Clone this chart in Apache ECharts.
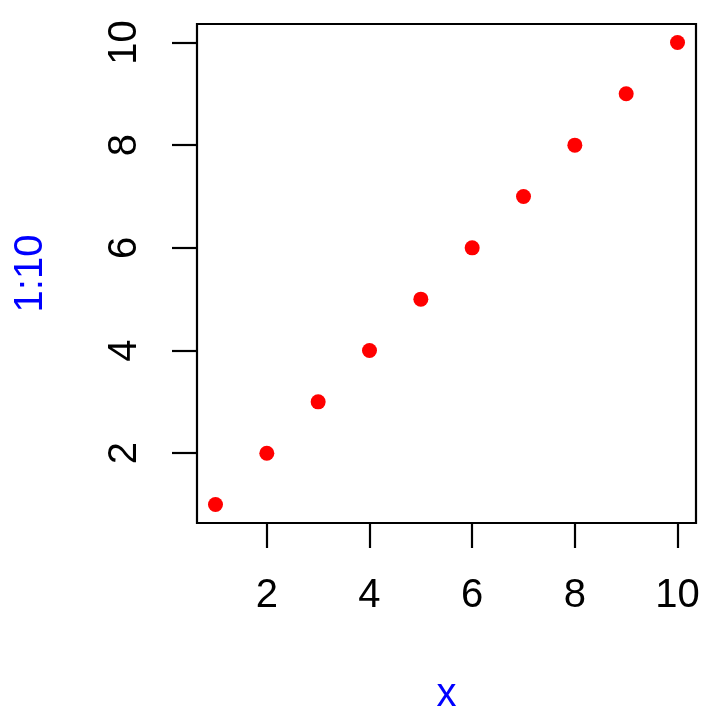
<!DOCTYPE html>
<html><head><meta charset="utf-8">
<script src="https://cdn.jsdelivr.net/npm/echarts@6/dist/echarts.min.js"></script>
<style>html,body{margin:0;padding:0;background:#fff}#c{width:720px;height:720px}</style>
</head><body><div id="c"></div>
<script>
var xValues = [1, 2, 3, 4, 5, 6, 7, 8, 9, 10];
var yValues = [1, 2, 3, 4, 5, 6, 7, 8, 9, 10];
var xTicks = [2, 4, 6, 8, 10];
var yTicks = [2, 4, 6, 8, 10];
var xTitle = 'x';
var yTitle = '1:10';

var font = 'Liberation Sans, Arial, Helvetica, sans-serif';
var chart = echarts.init(document.getElementById('c'), null, {renderer: 'canvas'});
var pts = xValues.map(function (x, i) { return [x, yValues[i]]; });
chart.setOption({
  animation: false,
  backgroundColor: '#fff',
  grid: {left: 197, top: 24, right: 24, bottom: 197, show: true, borderColor: '#000', borderWidth: 2.2, backgroundColor: 'transparent'},
  xAxis: {
    type: 'value', min: 0.64, max: 10.36,
    axisLine: {show: false}, splitLine: {show: false},
    axisTick: {show: true, customValues: xTicks, length: 25, lineStyle: {color: '#000', width: 2.2}},
    axisLabel: {customValues: xTicks, fontSize: 40, color: '#000', fontFamily: font, margin: 53},
    name: xTitle, nameLocation: 'middle', nameGap: 152,
    nameTextStyle: {color: '#0000ff', fontSize: 40, fontFamily: font}
  },
  yAxis: {
    type: 'value', min: 0.64, max: 10.36,
    axisLine: {show: false}, splitLine: {show: false},
    axisTick: {show: true, customValues: yTicks, length: 25, lineStyle: {color: '#000', width: 2.2}},
    axisLabel: {customValues: yTicks, fontSize: 40, color: '#000', fontFamily: font, margin: 52, rotate: 90},
    name: yTitle, nameLocation: 'middle', nameGap: 146, nameRotate: 90,
    nameTextStyle: {color: '#0000ff', fontSize: 40, fontFamily: font}
  },
  series: [{
    type: 'scatter', data: pts, symbol: 'circle', symbolSize: 15,
    itemStyle: {color: '#ff0000', opacity: 1}
  }]
});
</script></body></html>
